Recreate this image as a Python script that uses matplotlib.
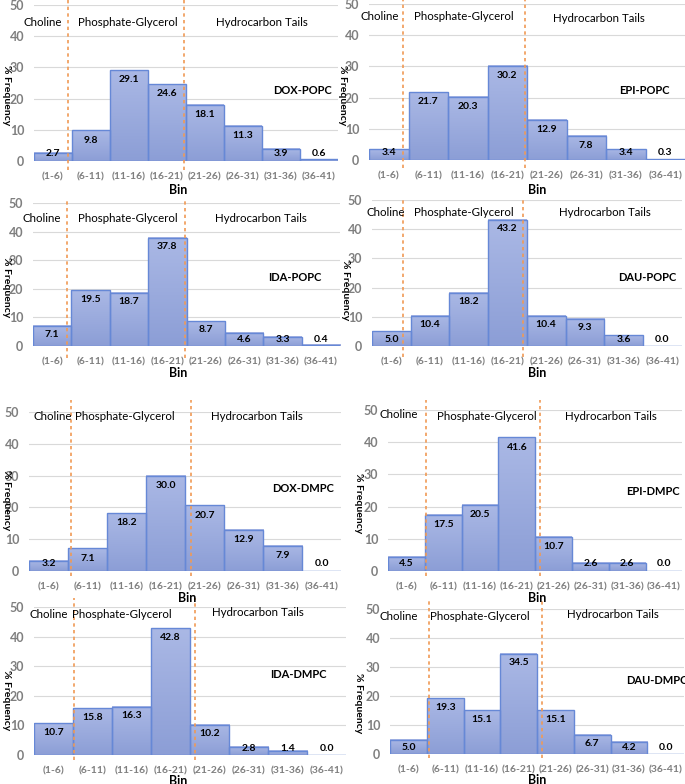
import numpy as np
import matplotlib
matplotlib.use("Agg")
import matplotlib.pyplot as plt
from matplotlib.colors import LinearSegmentedColormap

W, H = 685, 784
plt.rcParams['font.family'] = ['Lato', 'DejaVu Sans']

bins = ["(1-6)", "(6-11)", "(11-16)", "(16-21)", "(21-26)", "(26-31)", "(31-36)", "(36-41)"]
regions = ["Choline", "Phosphate-Glycerol", "Hydrocarbon Tails"]
names = ["DOX-POPC", "EPI-POPC", "IDA-POPC", "DAU-POPC",
         "DOX-DMPC", "EPI-DMPC", "IDA-DMPC", "DAU-DMPC"]

dox_popc = [2.7, 9.8, 29.1, 24.6, 18.1, 11.3, 3.9, 0.6]
epi_popc = [3.4, 21.7, 20.3, 30.2, 12.9, 7.8, 3.4, 0.3]
ida_popc = [7.1, 19.5, 18.7, 37.8, 8.7, 4.6, 3.3, 0.4]
dau_popc = [5.0, 10.4, 18.2, 43.2, 10.4, 9.3, 3.6, 0.0]
dox_dmpc = [3.2, 7.1, 18.2, 30.0, 20.7, 12.9, 7.9, 0.0]
epi_dmpc = [4.5, 17.5, 20.5, 41.6, 10.7, 2.6, 2.6, 0.0]
ida_dmpc = [10.7, 15.8, 16.3, 42.8, 10.2, 2.8, 1.4, 0.0]
dau_dmpc = [5.0, 19.3, 15.1, 34.5, 15.1, 6.7, 4.2, 0.0]
series = [dox_popc, epi_popc, ida_popc, dau_popc, dox_dmpc, epi_dmpc, ida_dmpc, dau_dmpc]

# layout (pixels): bar-left, bar width, y of 0, y of 50
layout = [
    dict(left=34, bw=38.0, y0=161, y50=5),
    dict(left=369, bw=39.5, y0=160, y50=4),
    dict(left=33, bw=38.4, y0=346, y50=203),
    dict(left=372, bw=38.7, y0=346, y50=200),
    dict(left=29, bw=39.05, y0=571, y50=412),
    dict(left=388, bw=36.8, y0=571, y50=410),
    dict(left=34, bw=39.05, y0=755, y50=607),
    dict(left=390, bw=36.76, y0=754, y50=609),
]
# dashed boundary positions (bar units) and vertical extent (px)
bounds = [(0.89, 3.95), (0.86, 3.95), (0.89, 3.96), (0.80, 3.90),
          (1.08, 4.15), (1.03, 4.13), (1.02, 4.12), (1.06, 4.13)]
line_ext = [(0, 170), (0, 168), (200, 358), (197, 357),
            (400, 576), (400, 576), (598, 760), (598, 758)]
# region label centres (px)
region_pos = [
    [(43, 22), (128, 22), (262, 22)],
    [(380, 17), (464, 17), (599, 18)],
    [(42, 219), (128, 219), (261, 219)],
    [(386, 212), (464, 212), (605, 212)],
    [(53, 417), (125, 417), (257, 417)],
    [(399, 415), (487, 416), (611, 416)],
    [(49, 614), (122, 614), (258, 613)],
    [(399, 617), (480, 617), (613, 615)],
]
name_pos = [(302, 91), (644, 91), (295, 277), (647, 277),
            (303, 489), (653, 491), (298, 675), (657, 680)]
bin_pos = [(178, 190), (537, 190), (178, 373), (537, 373),
           (187, 598), (537, 598), (178, 781), (537, 780)]
ylab_pos = [(6, 95), (342, 95), (6, 287), (345, 290),
            (6, 500), (358, 503), (6, 700), (359, 703)]

fig = plt.figure(figsize=(W / 100, H / 100), dpi=100)
fig.patch.set_facecolor("white")

def fx(x):
    return x / W

def fy(y):
    return 1 - y / H

cmap = LinearSegmentedColormap.from_list("bar", ["#8c9ed6", "#aab8e5"])
grad = np.linspace(0, 1, 64).reshape(-1, 1)

for k, (vals, lay) in enumerate(zip(series, layout)):
    left, bw, y0, y50 = lay["left"], lay["bw"], lay["y0"], lay["y50"]
    ax = fig.add_axes([fx(left), fy(y0), 8 * bw / W, (y0 - y50) / H])
    ax.set_facecolor("none")
    for s in ax.spines.values():
        s.set_visible(False)
    ax.set_yticks(np.arange(0, 51, 10))
    ax.yaxis.grid(True, color="#d9d9d9", lw=0.8, zorder=0)
    ax.set_axisbelow(True)
    ax.tick_params(axis="y", length=0, pad=7, labelsize=9, labelcolor="#7f7f7f")
    ax.set_xticks(np.arange(8) + 0.5)
    ax.set_xticklabels(bins)
    ax.tick_params(axis="x", length=0, pad=8, labelsize=7.5, labelcolor="#7f7f7f")
    for t in ax.get_xticklabels() + ax.get_yticklabels():
        t.set_fontweight("bold")
    x = np.arange(len(vals))
    for i, v in enumerate(vals):
        if v > 0:
            ax.imshow(grad, extent=[i, i + 1, 0, v], origin="lower", cmap=cmap,
                      aspect="auto", zorder=2, interpolation="bilinear")
    ax.bar(x + 0.5, vals, width=1.0, facecolor="none", edgecolor="#6688d6",
           lw=1.0, zorder=3)
    for i, v in enumerate(vals):
        ax.text(i + 0.5, max(v - 3.1, 2.3), f"{v:.1f}", ha="center", va="center",
                fontsize=7.5, fontweight="bold", color="black", zorder=5)
    ax.set_xlim(0, 8)
    ax.set_ylim(0, 50)
    span = y0 - y50
    for b in bounds[k]:
        top, bot = line_ext[k]
        ax.axvline(b, ymin=(y0 - bot) / span, ymax=(y0 - top) / span,
                   color="#f09a55", ls=(0, (2, 2)), lw=1.2, clip_on=False, zorder=4)
    for lab, (px, py) in zip(regions, region_pos[k]):
        fig.text(fx(px), fy(py), lab, ha="center", va="center", fontsize=8.3, color="black")
    fig.text(fx(name_pos[k][0]), fy(name_pos[k][1]), names[k], ha="center", va="center",
             fontsize=8, fontweight="bold", color="black")
    fig.text(fx(bin_pos[k][0]), fy(bin_pos[k][1]), "Bin", ha="center", va="center",
             fontsize=9, fontweight="bold", color="black")
    fig.text(fx(ylab_pos[k][0]), fy(ylab_pos[k][1]), "% Frequency", ha="center", va="center",
             rotation=270, fontsize=7.5, fontweight="bold", color="black")

fig.savefig("out.png", dpi=100, facecolor="white")
